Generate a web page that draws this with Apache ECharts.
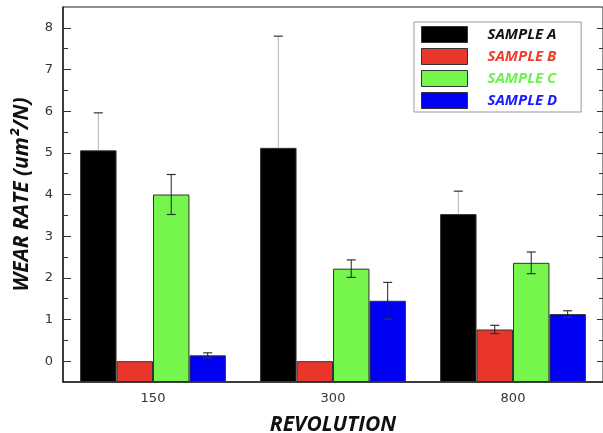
<!DOCTYPE html>
<html>
<head>
<meta charset="utf-8">
<script src="https://cdn.jsdelivr.net/npm/echarts@6/dist/echarts.min.js"></script>
<style>html,body{margin:0;padding:0;background:#fff;}#c{width:603px;height:433px;}</style>
</head>
<body>
<div id="c"></div>
<script>
const categories = ['150', '300', '800'];
const seriesNames = ['SAMPLE A', 'SAMPLE B', 'SAMPLE C', 'SAMPLE D'];
const sampleA = [5.06, 5.12, 3.53];
const sampleB = [0.00, 0.00, 0.76];
const sampleC = [4.00, 2.22, 2.36];
const sampleD = [0.14, 1.45, 1.13];
const errA = [0.90, 2.68, 0.55];
const errB = [0.00, 0.00, 0.10];
const errC = [0.48, 0.21, 0.26];
const errD = [0.06, 0.44, 0.08];
const yTicks = [0, 1, 2, 3, 4, 5, 6, 7, 8];
const yMinorTicks = [0.5, 1.5, 2.5, 3.5, 4.5, 5.5, 6.5, 7.5];
const yMin = -0.5, yMax = 8.5;

const values = [sampleA, sampleB, sampleC, sampleD];
const errors = [errA, errB, errC, errD];
const colors = ['#000000', '#e9352a', '#76f64c', '#0000f2'];
const textColors = ['#111111', '#f03c2c', '#6cf24c', '#1a1aff'];
const stemColors = ['#b0b0b0', '#222', '#222', '#222'];
const drawLower = [false, true, true, true];
const catGap = 0.19;

const chart = echarts.init(document.getElementById('c'), null, {renderer: 'canvas'});
const series = [];
values.forEach((vals, j) => {
  const key = 'S' + j;
  series.push({
    type: 'bar', name: 'base' + j, stack: key, stackStrategy: 'all', silent: true,
    data: vals.map(() => yMin),
    itemStyle: {color: 'rgba(0,0,0,0)', borderWidth: 0},
    barGap: '0%', barCategoryGap: (catGap * 100) + '%'
  });
  series.push({
    type: 'bar', name: seriesNames[j], stack: key, stackStrategy: 'all',
    data: vals.map(v => v - yMin),
    itemStyle: {color: colors[j], borderColor: '#333', borderWidth: 1},
    barGap: '0%', barCategoryGap: (catGap * 100) + '%'
  });
});
values.forEach((vals, j) => {
  series.push({
    type: 'custom', name: 'err' + j, z: 5, silent: true,
    data: vals.map((v, i) => [i, v, v - errors[j][i], v + errors[j][i]]),
    encode: {x: 0, y: [1, 2, 3]},
    renderItem: function (params, api) {
      const band = api.size([1, 0])[0];
      const bw = band * (1 - catGap) / 4;
      const off = (j - 1.5) * bw;
      const mid = api.coord([api.value(0), api.value(1)]);
      const hi = api.coord([api.value(0), api.value(3)]);
      const lo = drawLower[j] ? api.coord([api.value(0), api.value(2)]) : mid;
      if (Math.abs(mid[1] - hi[1]) < 1) return null;
      const x = hi[0] + off;
      const cw = 4.5;
      const children = [
        {type: 'line', shape: {x1: x, y1: hi[1], x2: x, y2: lo[1]}, style: {stroke: stemColors[j], lineWidth: 1}},
        {type: 'line', shape: {x1: x - cw, y1: hi[1], x2: x + cw, y2: hi[1]}, style: {stroke: '#333', lineWidth: 1.2}}
      ];
      if (drawLower[j]) {
        children.push({type: 'line', shape: {x1: x - cw, y1: lo[1], x2: x + cw, y2: lo[1]}, style: {stroke: '#333', lineWidth: 1.2}});
      }
      return {type: 'group', children: children};
    }
  });
});

const yBase = {type: 'value', min: yMin, max: yMax, splitLine: {show: false}};
chart.setOption({
  animation: false,
  backgroundColor: '#fff',
  grid: {left: 63, right: 0, top: 7, bottom: 51, outerBoundsMode: 'none', containLabel: false,
         show: true, borderColor: '#222', borderWidth: 1},
  legend: {
    orient: 'vertical', left: 414, top: 22,
    itemWidth: 46, itemHeight: 16, itemGap: 5,
    padding: [4, 24, 3, 7],
    borderColor: '#999', borderWidth: 1, backgroundColor: '#fff',
    selectedMode: false,
    icon: 'rect',
    itemStyle: {borderColor: '#333', borderWidth: 1},
    textStyle: {fontFamily: 'Open Sans', fontWeight: 'bold', fontStyle: 'italic', fontSize: 15, lineHeight: 16, padding: [0, 0, 0, 15]},
    data: seriesNames.map((n, j) => ({name: n, textStyle: {color: textColors[j]}}))
  },
  xAxis: {
    type: 'category', data: categories,
    axisLine: {onZero: false, lineStyle: {color: '#222', width: 1.5}},
    axisTick: {inside: true, length: 5, lineStyle: {color: '#222'}},
    axisLabel: {margin: 10, color: '#333', fontFamily: 'DejaVu Sans', fontSize: 13},
    name: 'REVOLUTION', nameLocation: 'middle', nameGap: 33,
    nameTextStyle: {fontFamily: 'Open Sans', fontWeight: 'bold', fontStyle: 'italic', fontSize: 21, color: '#111'}
  },
  yAxis: [
    Object.assign({}, yBase, {
      position: 'left',
      axisLine: {show: true, lineStyle: {color: '#222', width: 1.5}},
      axisTick: {show: true, inside: true, length: 8, customValues: yTicks, lineStyle: {color: '#333'}},
      axisLabel: {customValues: yTicks, margin: 10, color: '#333', fontFamily: 'DejaVu Sans', fontSize: 13},
      name: 'WEAR RATE (um²/N)', nameLocation: 'middle', nameGap: 30, nameRotate: 90,
      nameTextStyle: {fontFamily: 'Open Sans', fontWeight: 'bold', fontStyle: 'italic', fontSize: 21, color: '#111'}
    }),
    Object.assign({}, yBase, {
      position: 'left',
      axisLine: {show: false},
      axisTick: {show: true, inside: true, length: 5, customValues: yMinorTicks, lineStyle: {color: '#333'}},
      axisLabel: {show: false}
    }),
    Object.assign({}, yBase, {
      position: 'right',
      axisLine: {show: true, lineStyle: {color: '#222', width: 1}},
      axisTick: {show: true, inside: true, length: 6, customValues: yTicks, lineStyle: {color: '#333'}},
      axisLabel: {show: false}
    }),
    Object.assign({}, yBase, {
      position: 'right',
      axisLine: {show: false},
      axisTick: {show: true, inside: true, length: 4, customValues: yMinorTicks, lineStyle: {color: '#333'}},
      axisLabel: {show: false}
    })
  ],
  series: series
});
</script>
</body>
</html>
